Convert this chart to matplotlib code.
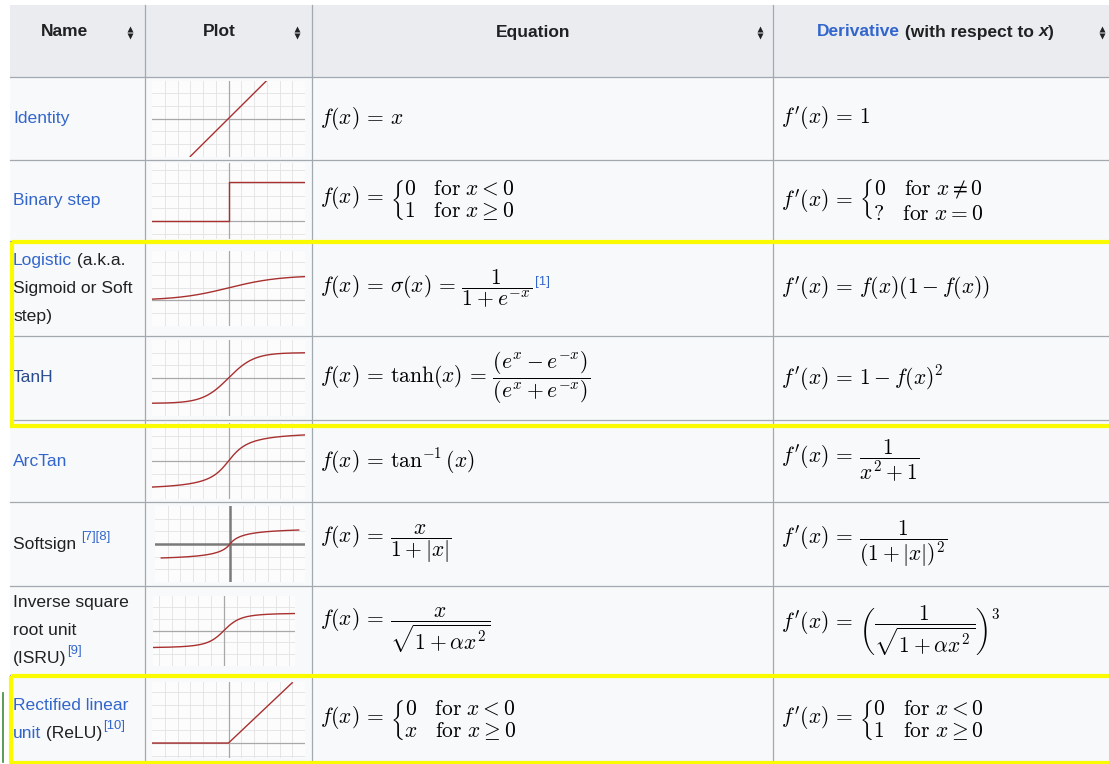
import numpy as np
import matplotlib
matplotlib.use("Agg")
from matplotlib import pyplot as plt
from matplotlib.patches import Rectangle

plt.rcParams['font.family'] = ['Liberation Sans', 'DejaVu Sans']
plt.rcParams['mathtext.fontset'] = 'cm'

W, H = 1109, 764
BLUE = '#3366cc'
VISITED = '#2a4b8d'
DARK = '#202122'

# table geometry (pixels)
col_edges = [10, 145, 312, 773, 1109]
row_edges = [5, 77, 160, 241, 336, 420, 502, 586, 675, 764]

headers = ['Name', 'Plot', 'Equation']
header_x = [65, 219, 533]
sort_x = [130, 297, 760, 1102]

name_lines = [
    [[('Identity', BLUE)]],
    [[('Binary step', BLUE)]],
    [[('Logistic', BLUE), (' (a.k.a.', DARK)], [('Sigmoid or Soft', DARK)], [('step)', DARK)]],
    [[('TanH', VISITED)]],
    [[('ArcTan', BLUE)]],
    [[('Softsign ', DARK), ('[7][8]', BLUE, 'sup')]],
    [[('Inverse square', DARK)], [('root unit', DARK)], [('(ISRU)', DARK), ('[9]', BLUE, 'sup')]],
    [[('Rectified linear', BLUE)], [('unit', BLUE), (' (ReLU)', DARK), ('[10]', BLUE, 'sup')]],
]

EQ = r'\,=\,'
equations = [
    r'$f(x)' + EQ + r'x$',
    r'$f(x)' + EQ + r'\left\{\genfrac{}{}{0}{0}{0\quad \mathrm{for}\ x < 0}{1\quad \mathrm{for}\ x \geq 0}\right.$',
    r'$f(x)' + EQ + r'\sigma(x)' + EQ + r'\dfrac{1}{1+e^{-x}}$',
    r'$f(x)' + EQ + r'\tanh(x)' + EQ + r'\dfrac{(e^{x} - e^{-x})}{(e^{x} + e^{-x})}$',
    r'$f(x)' + EQ + r'\tan^{-1}(x)$',
    r'$f(x)' + EQ + r'\dfrac{x}{1+|x|}$',
    r'$f(x)' + EQ + r'\dfrac{x}{\sqrt{1+\alpha x^{2}}}$',
    r'$f(x)' + EQ + r'\left\{\genfrac{}{}{0}{0}{0\quad \mathrm{for}\ x < 0}{x\quad \mathrm{for}\ x \geq 0}\right.$',
]
derivatives = [
    r'$f^{\prime}(x)' + EQ + r'1$',
    r'$f^{\prime}(x)' + EQ + r'\left\{\genfrac{}{}{0}{0}{0\quad \mathrm{for}\ x \neq 0}{?\quad \mathrm{for}\ x = 0}\right.$',
    r'$f^{\prime}(x)' + EQ + r'f(x)(1 - f(x))$',
    r'$f^{\prime}(x)' + EQ + r'1 - f(x)^{2}$',
    r'$f^{\prime}(x)' + EQ + r'\dfrac{1}{x^{2}+1}$',
    r'$f^{\prime}(x)' + EQ + r'\dfrac{1}{(1+|x|)^{2}}$',
    r'$f^{\prime}(x)' + EQ + r'\left(\dfrac{1}{\sqrt{1+\alpha x^{2}}}\right)^{3}$',
    r'$f^{\prime}(x)' + EQ + r'\left\{\genfrac{}{}{0}{0}{0\quad \mathrm{for}\ x < 0}{1\quad \mathrm{for}\ x \geq 0}\right.$',
]

# thumbnail plots
plot_funcs = ['identity', 'step', 'logistic', 'tanh', 'arctan', 'softsign', 'isru', 'relu']
plot_xlim = [(-6, 6), (-3, 3), (-3, 3), (-3, 3), (-5, 5), (-6, 6), (-4, 4), (-6, 6)]
plot_ylim = [(-3, 3), (-0.45, 1.5), (-1.05, 2), (-1.5, 1.5), (-2, 2), (-2.3, 2.3), (-2, 2), (-1.2, 5.1)]
curve_span = [(-3, 3), (-3, 3), (-3, 3), (-3, 3), (-5, 5), (-5.5, 5.5), (-4, 4), (-6, 5)]
thumb_w = [153, 153, 153, 153, 153, 150, 142, 153]
thumb_x0 = [152, 152, 152, 152, 152, 155, 153, 152]


def act(name, x):
    if name == 'identity':
        return x
    if name == 'step':
        return np.where(x < 0, 0.0, 1.0)
    if name == 'logistic':
        return 1 / (1 + np.exp(-x))
    if name == 'tanh':
        return np.tanh(x)
    if name == 'arctan':
        return np.arctan(x)
    if name == 'softsign':
        return x / (1 + np.abs(x))
    if name == 'isru':
        return x / np.sqrt(1 + x ** 2)
    return np.maximum(x, 0)


fig = plt.figure(figsize=(W / 100, H / 100), dpi=100)
fig.patch.set_facecolor('white')
ax = fig.add_axes([0, 0, 1, 1])
ax.set_xlim(0, W)
ax.set_ylim(H, 0)
ax.axis('off')
renderer = fig.canvas.get_renderer()

# backgrounds
ax.add_patch(Rectangle((col_edges[0], row_edges[0]), W, row_edges[1] - row_edges[0],
                       fc='#eaecf0', ec='none'))
ax.add_patch(Rectangle((col_edges[0], row_edges[1]), W, H - row_edges[1],
                       fc='#f8f9fa', ec='none'))
# grid lines
for y in row_edges[1:-1]:
    ax.plot([col_edges[0], W], [y, y], color='#a2a9b1', lw=0.9)
for x in col_edges[1:-1]:
    ax.plot([x, x], [row_edges[0], H], color='#a2a9b1', lw=0.9)


def pieces(x, y, parts, size=12.6, weight='normal'):
    for p in parts:
        kind = p[2] if len(p) > 2 else ''
        sup = kind == 'sup'
        t = ax.text(x, y - (7 if sup else 0), p[0], color=p[1],
                    fontsize=size * 0.75 if sup else size, weight=weight,
                    style='italic' if kind == 'it' else 'normal', ha='left', va='center')
        x += t.get_window_extent(renderer).width
    return x


# header
for lab, hx in zip(headers, header_x):
    ax.text(hx, 32, lab, fontsize=12.5, weight='bold', color=DARK, ha='center', va='center')
pieces(817, 32, [('Derivative', BLUE), (' (with respect to ', DARK), ('x', DARK, 'it'), (')', DARK)],
       size=12.5, weight='bold')
for sx in sort_x:
    ax.plot(sx, 28.5, marker='^', ms=5, color=DARK, mec='none')
    ax.plot(sx, 35.5, marker='v', ms=5, color=DARK, mec='none')

# body rows
for i in range(8):
    top, bot = row_edges[i + 1], row_edges[i + 2]
    cy = (top + bot) / 2
    lines = name_lines[i]
    n = len(lines)
    for k, parts in enumerate(lines):
        ly = cy + (k - (n - 1) / 2) * 27.5
        pieces(13, ly, parts)

    t = ax.text(320, cy, equations[i], fontsize=15.5, color='black', ha='left', va='center')
    if i == 2:
        bb = t.get_window_extent(renderer)
        ax.text(bb.x1 + 3, cy - 7, '[1]', fontsize=9.5, color=BLUE, ha='left', va='center')
    ax.text(781, cy, derivatives[i], fontsize=15.5, color='black', ha='left', va='center')

    # thumbnail
    th = 76 if i != 6 else 70
    ty0 = cy - th / 2
    tx0 = thumb_x0[i]
    tw = thumb_w[i]
    sub = fig.add_axes([tx0 / W, 1 - (ty0 + th) / H, tw / W, th / H])
    sub.set_facecolor('#fcfcfc')
    for s in sub.spines.values():
        s.set_visible(False)
    sub.set_xticks([])
    sub.set_yticks([])
    x0, x1 = plot_xlim[i]
    y0, y1 = plot_ylim[i]
    sub.set_xlim(x0, x1)
    sub.set_ylim(y0, y1)
    xs = (x1 - x0) / max(1, round(tw / 12.7))
    ys = (y1 - y0) / max(1, round(th / 12.7))
    for g in np.concatenate([np.arange(0, x1, xs), -np.arange(xs, -x0, xs)]):
        sub.axvline(g, color='#e2e2e2', lw=0.6)
    for g in np.concatenate([np.arange(0, y1, ys), -np.arange(ys, -y0, ys)]):
        sub.axhline(g, color='#e2e2e2', lw=0.6)
    axc = '#7a7a7a' if i == 5 else '#a8a8a8'
    alw = 1.8 if i == 5 else 0.9
    sub.axhline(0, color=axc, lw=alw)
    sub.axvline(0, color=axc, lw=alw)
    xx = np.linspace(curve_span[i][0], curve_span[i][1], 400)
    yy = act(plot_funcs[i], xx)
    if plot_funcs[i] == 'step':
        xx = np.array([curve_span[i][0], 0, 0, curve_span[i][1]])
        yy = act('step', np.array([-1, -1e-9, 0, 1]))
    sub.plot(xx, yy, color='#a8302f', lw=1.0)

# highlight boxes on an overlay so they sit above the thumbnails
ov = fig.add_axes([0, 0, 1, 1], zorder=10)
ov.set_xlim(0, W)
ov.set_ylim(H, 0)
ov.patch.set_alpha(0)
ov.axis('off')
ov.add_patch(Rectangle((11.5, 242), 1300, 184, fill=False, ec='#fbfb00', lw=3.0))
ov.add_patch(Rectangle((10.5, 676), 1300, 87, fill=False, ec='#fbfb00', lw=3.0))
ov.plot([3, 3], [693, 762], color='#3d8b3d', lw=1.2)

fig.savefig('out.png', dpi=100, facecolor='white')
